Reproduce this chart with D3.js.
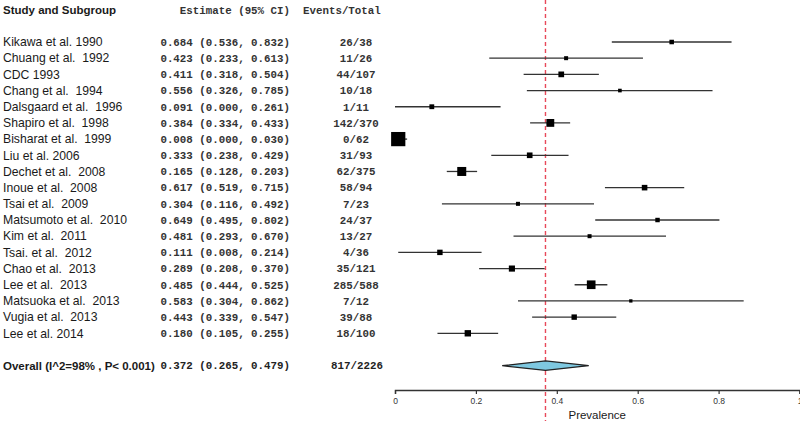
<!DOCTYPE html>
<html><head><meta charset="utf-8">
<script src="https://cdn.jsdelivr.net/npm/d3@7"></script>
<style>
body{margin:0;background:#fff;}
svg text{white-space:pre;}
</style></head>
<body><svg id="c" width="800" height="421"></svg>
<script>
const studies = ["Kikawa et al. 1990","Chuang et al.  1992","CDC 1993","Chang et al.  1994","Dalsgaard et al.  1996","Shapiro et al.  1998","Bisharat et al.  1999","Liu et al. 2006","Dechet et al.  2008","Inoue et al.  2008","Tsai et al.  2009","Matsumoto et al.  2010","Kim et al.  2011","Tsai. et al.  2012","Chao et al.  2013","Lee et al.  2013","Matsuoka et al.  2013","Vugia et al.  2013","Lee et al. 2014"];
const estimate = [0.684,0.423,0.411,0.556,0.091,0.384,0.008,0.333,0.165,0.617,0.304,0.649,0.481,0.111,0.289,0.485,0.583,0.443,0.180];
const lower = [0.536,0.233,0.318,0.326,0.000,0.334,0.000,0.238,0.128,0.519,0.116,0.495,0.293,0.008,0.208,0.444,0.304,0.339,0.105];
const upper = [0.832,0.613,0.504,0.785,0.261,0.433,0.030,0.429,0.203,0.715,0.492,0.802,0.670,0.214,0.370,0.525,0.862,0.547,0.255];
const events = ["26/38","11/26","44/107","10/18","1/11","142/370","0/62","31/93","62/375","58/94","7/23","24/37","13/27","4/36","35/121","285/588","7/12","39/88","18/100"];
const overall = {label:"Overall (I^2=98% , P< 0.001)", est:0.372, lo:0.265, hi:0.479, events:"817/2226"};
const xTicks = [0,0.2,0.4,0.6,0.8,1];
const headers = ["Study and Subgroup","Estimate (95% CI)","Events/Total"];
const xTitle = "Prevalence";

const svg = d3.select("#c");
const x = d3.scaleLinear().domain([0,1]).range([395,799.5]);
const y = d3.scaleLinear().domain([0,studies.length-1]).range([42,333.3]);
const f3 = d3.format(".3f");
const ciText = (e,l,h)=>`${f3(e)} (${f3(l)}, ${f3(h)})`;
// square size from precision (1/width^2), fourth-root scaling
const size = d3.scalePow().exponent(0.25).domain([0,1/(0.075*0.075)]).range([0,9]);

const sans = "'Liberation Sans', Arial, sans-serif";
const mono = "'Liberation Mono', 'Courier New', monospace";

// reference line
svg.append("line").attr("x1",x(overall.est)).attr("x2",x(overall.est))
  .attr("y1",0).attr("y2",421).attr("stroke","#e8495a").attr("stroke-width",1.4)
  .attr("stroke-dasharray","4,3");

// headers
const yh = y(-1.95);
svg.append("text").attr("x",3).attr("y",yh).attr("dy","0.35em").attr("font-family",sans)
  .attr("font-weight","bold").attr("font-size",11.5).attr("fill","#1a1a1a").text(headers[0]);
svg.append("text").attr("x",290).attr("y",yh).attr("dy","0.35em").attr("text-anchor","end")
  .attr("font-family",mono).attr("font-size",10.8).attr("font-weight","bold").attr("fill","#333").text(headers[1]);
svg.append("text").attr("x",303).attr("y",yh).attr("dy","0.35em")
  .attr("font-family",mono).attr("font-size",10.8).attr("font-weight","bold").attr("fill","#333").text(headers[2]);

const rows = svg.append("g").selectAll("g").data(studies).join("g")
  .attr("transform",(d,i)=>`translate(0,${y(i)})`);
rows.append("text").attr("x",3).attr("dy","0.35em").attr("font-family",sans).attr("font-size",12.2)
  .attr("fill","#1a1a1a").text(d=>d);
rows.append("text").attr("x",290).attr("dy","0.35em").attr("text-anchor","end")
  .attr("font-family",mono).attr("font-size",10.8).attr("font-weight","bold").attr("fill","#333")
  .text((d,i)=>ciText(estimate[i],lower[i],upper[i]));
rows.append("text").attr("x",356).attr("dy","0.35em").attr("text-anchor","middle")
  .attr("font-family",mono).attr("font-size",10.8).attr("font-weight","bold").attr("fill","#333")
  .text((d,i)=>events[i]);
rows.append("line").attr("x1",(d,i)=>x(lower[i])).attr("x2",(d,i)=>x(upper[i]))
  .attr("stroke","#333").attr("stroke-width",1.3);
rows.append("rect")
  .each(function(d,i){
    const w = upper[i]-lower[i];
    const s = size(1/(w*w));
    d3.select(this).attr("x",x(estimate[i])-s/2).attr("y",-s/2).attr("width",s).attr("height",s);
  }).attr("fill","#000");

// overall
const yo = y(studies.length+1);
svg.append("text").attr("x",3).attr("y",yo).attr("dy","0.35em").attr("font-family",sans)
  .attr("font-weight","bold").attr("font-size",11.5).attr("fill","#1a1a1a").text(overall.label);
svg.append("text").attr("x",290).attr("y",yo).attr("dy","0.35em").attr("text-anchor","end")
  .attr("font-family",mono).attr("font-size",10.8).attr("font-weight","bold").attr("fill","#222")
  .text(ciText(overall.est,overall.lo,overall.hi));
svg.append("text").attr("x",357).attr("y",yo).attr("dy","0.35em").attr("text-anchor","middle")
  .attr("font-family",mono).attr("font-size",10.8).attr("font-weight","bold").attr("fill","#222")
  .text(overall.events);
svg.append("path")
  .attr("d",`M${x(overall.lo)},${yo} L${x(overall.est)},${yo-4.8} L${x(overall.hi)},${yo} L${x(overall.est)},${yo+4.8} Z`)
  .attr("fill","#7ec8e0").attr("stroke","#222").attr("stroke-width",1.2);

// axis
const axis = d3.axisBottom(x).tickValues(xTicks).tickSize(4).tickFormat(d=>d===0||d===1?d3.format("d")(d):d3.format(".1f")(d));
const ag = svg.append("g").attr("transform","translate(0,390)").call(axis);
ag.select(".domain").attr("stroke","#333").attr("stroke-width",1.4);
ag.selectAll(".tick line").attr("stroke","#333").attr("stroke-width",1.2);
ag.selectAll(".tick text").attr("font-family",sans).attr("font-size",8.5).attr("fill","#333").attr("y",8);
svg.append("text").attr("x",x(0.5)).attr("y",419).attr("text-anchor","middle")
  .attr("font-family",sans).attr("font-size",11.5).attr("fill","#1a1a1a").text(xTitle);
</script></body></html>
